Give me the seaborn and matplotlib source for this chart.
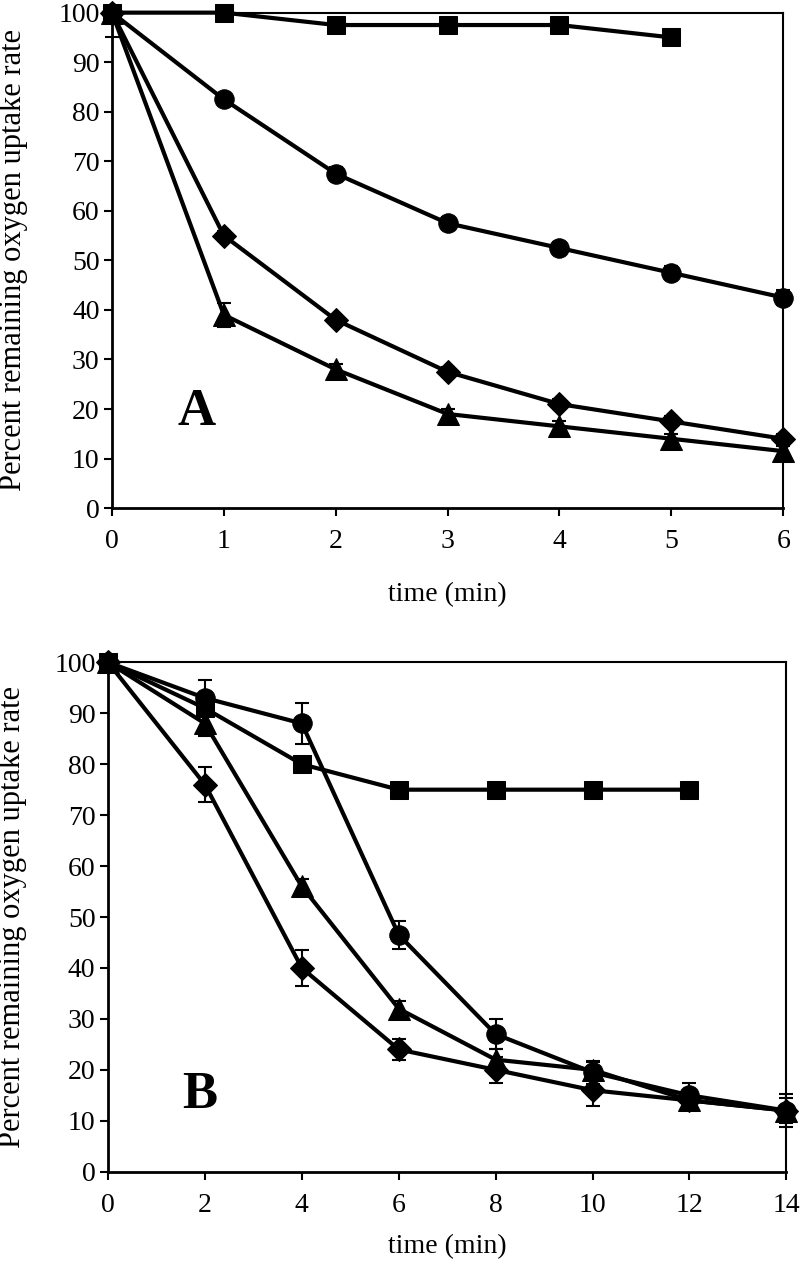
import numpy as np
import pandas as pd
import seaborn as sns
import matplotlib.pyplot as plt

# Panel A data (time in min)
time_a = [0, 1, 2, 3, 4, 5, 6]
square_a = [100, 100, 97.5, 97.5, 97.5, 95]
circle_a = [100, 82.5, 67.5, 57.5, 52.5, 47.5, 42.5]
diamond_a = [100, 55, 38, 27.5, 21, 17.5, 14]
triangle_a = [100, 39, 28, 19, 16.5, 14, 11.5]
circle_a_err = [0, 1.2, 1.3, 1.2, 1.2, 1.3, 1.5]
diamond_a_err = [0, 1, 1, 1, 1, 1, 1]
triangle_a_err = [5, 2.5, 1, 1, 1, 1, 1]

# Panel B data
time_b = [0, 2, 4, 6, 8, 10, 12, 14]
square_b = [100, 91, 80, 75, 75, 75, 75]
circle_b = [100, 93, 88, 46.5, 27, 19.5, 15, 12]
triangle_b = [100, 88, 56, 32, 22, 20, 14, 12]
diamond_b = [100, 76, 40, 24, 20, 16, 14, 12]
circle_b_err = [0, 3.5, 4, 2.8, 3, 2.2, 2.5, 3.2]
triangle_b_err = [0, 2.5, 1.5, 1.5, 2, 1.5, 1, 1]
diamond_b_err = [0, 3.5, 3.5, 2, 2.5, 3, 1, 2.5]

sns.set_style("ticks")
plt.rcParams['font.family'] = ['Liberation Serif', 'DejaVu Serif']
for k in ["text.color", "axes.labelcolor", "xtick.color", "ytick.color", "axes.edgecolor"]:
    plt.rcParams[k] = "black"

markers = {"square": "s", "circle": "o", "diamond": "D", "triangle": "^"}
msizes = {"square": 13.5, "circle": 14, "diamond": 12, "triangle": 15.5}


def build(t, series):
    rows = []
    for name, (vals, err) in series.items():
        for i, v in enumerate(vals):
            rows.append({"time": t[i], "value": v, "series": name,
                         "err": err[i] if err is not None else 0})
    return pd.DataFrame(rows)


def draw(ax, df, xmax, xticks, letter, letter_pos, ylab_x, xlab_y):
    for name in ["square", "circle", "diamond", "triangle"]:
        d = df[df["series"] == name]
        ax.errorbar(d["time"], d["value"], yerr=d["err"], fmt="none",
                    ecolor="black", elinewidth=1.5, capsize=5, capthick=1.5, zorder=2)
        sns.lineplot(data=d, x="time", y="value", ax=ax, color="black",
                     marker=markers[name], markersize=msizes[name],
                     markeredgecolor="black", linewidth=3, zorder=3,
                     errorbar=None, legend=False)
    ax.set_xlim(0, xmax)
    ax.set_ylim(0, 100)
    ax.set_xticks(xticks)
    ax.set_yticks(range(0, 101, 10))
    ax.tick_params(labelsize=20, length=6, width=1.5, direction="out")
    ax.tick_params(axis="x", pad=9)
    ax.tick_params(axis="y", pad=3)
    ax.set_xlabel("time (min)", fontsize=20)
    ax.set_ylabel("Percent remaining oxygen uptake rate", fontsize=22)
    ax.yaxis.set_label_coords(ylab_x, 0.5)
    ax.xaxis.set_label_coords(0.5, xlab_y)
    for s in ["left", "bottom"]:
        ax.spines[s].set_linewidth(2)
    for s in ["top", "right"]:
        ax.spines[s].set_linewidth(1.5)
    ax.text(letter_pos[0], letter_pos[1], letter, fontsize=38, fontweight="bold",
            ha="center", va="center")
    for line in ax.lines:
        line.set_clip_on(False)


fig = plt.figure(figsize=(8, 12.64), dpi=100)
ax_a = fig.add_axes([0.14, 0.598, 0.839, 0.392])
ax_b = fig.add_axes([0.135, 0.073, 0.848, 0.403])

df_a = build(time_a, {"square": (square_a, None), "circle": (circle_a, circle_a_err),
                      "diamond": (diamond_a, diamond_a_err),
                      "triangle": (triangle_a, triangle_a_err)})
df_b = build(time_b, {"square": (square_b, None), "circle": (circle_b, circle_b_err),
                      "diamond": (diamond_b, diamond_b_err),
                      "triangle": (triangle_b, triangle_b_err)})

draw(ax_a, df_a, 6, range(0, 7), "A", (0.76, 19.5), -0.125, -0.15)
draw(ax_b, df_b, 14, range(0, 15, 2), "B", (1.9, 15), -0.12, -0.122)

fig.savefig("out.png", dpi=100)
